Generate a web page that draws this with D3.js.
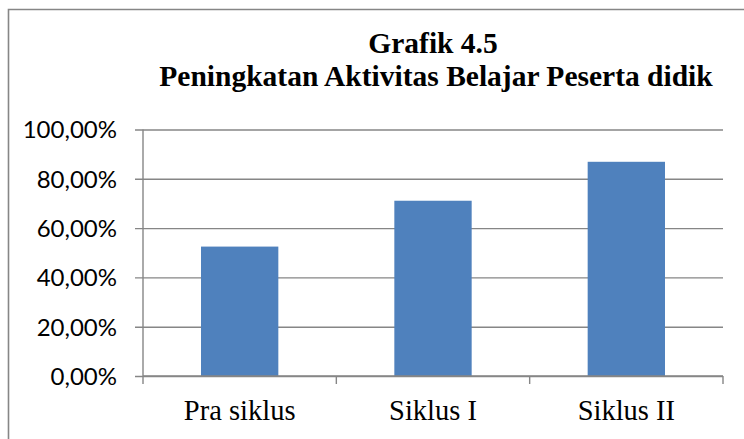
<!DOCTYPE html>
<html>
<head>
<meta charset="utf-8">
<script src="https://cdn.jsdelivr.net/npm/d3@7"></script>
<style>
  body { margin: 0; background: #fff; }
  svg { display: block; }
</style>
</head>
<body>
<div id="chart"></div>
<script>
// data
const categories = ["Pra siklus", "Siklus I", "Siklus II"];
const values = [0.525, 0.711, 0.869];
const yTicks = [0, 0.2, 0.4, 0.6, 0.8, 1.0];
const titleLines = ["Grafik 4.5", "Peningkatan Aktivitas Belajar Peserta didik"];

const width = 744, height = 439;
const margin = {top: 129.5, right: 21, bottom: 63, left: 143};
const innerW = width - margin.left - margin.right;
const innerH = height - margin.top - margin.bottom;
const gray = "#868686";

const svg = d3.select("#chart").append("svg")
  .attr("width", width)
  .attr("height", height);

// outer frame (right / bottom edges fall outside the picture)
svg.append("path")
  .attr("d", "M8.5,450 V9.5 H760")
  .attr("fill", "none")
  .attr("stroke", gray)
  .attr("stroke-width", 1.6);

// title
svg.append("g").selectAll("text")
  .data(titleLines)
  .join("text")
  .attr("x", (d, i) => i == 0 ? 433 : 436)
  .attr("y", (d, i) => 53 + i * 33)
  .attr("text-anchor", "middle")
  .style("font-family", "'Liberation Serif', 'Times New Roman', serif")
  .style("font-weight", "bold")
  .style("font-size", "29.5px")
  .text(d => d);

const g = svg.append("g")
  .attr("transform", "translate(" + margin.left + "," + margin.top + ")");

let x = d3.scaleBand()
  .domain(categories)
  .range([0, innerW])
  .padding(0);

let y = d3.scaleLinear()
  .domain([0, 1])
  .range([innerH, 0]);

// gridlines + y axis
let yAxis = g.append("g")
  .call(d3.axisLeft(y)
    .tickValues(yTicks)
    .tickSize(8)
    .tickFormat(d => d3.format(".2f")(d * 100).replace(".", ",") + "%"));
yAxis.select(".domain").remove();
yAxis.selectAll(".tick line")
  .attr("x2", innerW)
  .attr("x1", -8)
  .attr("stroke", gray)
  .attr("stroke-width", 1.4);
yAxis.selectAll(".tick text")
  .attr("x", -26)
  .attr("dy", "0.35em")
  .attr("fill", "#000")
  .style("font-family", "Lato, 'Open Sans', sans-serif")
  .style("font-size", "24px");

// bars
const barW = x.bandwidth() * 0.4;
g.selectAll("rect.bar")
  .data(values)
  .join("rect")
  .attr("class", "bar")
  .attr("x", (d, i) => x(categories[i]) + (x.bandwidth() - barW) / 2)
  .attr("y", d => y(d))
  .attr("width", barW)
  .attr("height", d => innerH - y(d))
  .attr("fill", "#4F81BD");

// vertical axis line
g.append("line")
  .attr("x1", 0).attr("x2", 0)
  .attr("y1", 0).attr("y2", innerH + 8)
  .attr("stroke", gray)
  .attr("stroke-width", 1.4);

// category axis: ticks between categories
let xAxis = g.append("g")
  .attr("transform", "translate(0," + innerH + ")");
xAxis.append("line")
  .attr("x1", 0).attr("x2", innerW)
  .attr("stroke", gray)
  .attr("stroke-width", 1.4);
xAxis.selectAll("line.tick")
  .data(categories.slice(1).concat(["end"]))
  .join("line")
  .attr("class", "tick")
  .attr("x1", d => d == "end" ? innerW : x(d))
  .attr("x2", d => d == "end" ? innerW : x(d))
  .attr("y1", 0).attr("y2", 8)
  .attr("stroke", gray)
  .attr("stroke-width", 1.4);
xAxis.selectAll("text")
  .data(categories)
  .join("text")
  .attr("x", d => x(d) + x.bandwidth() / 2)
  .attr("y", 44)
  .attr("text-anchor", "middle")
  .style("font-family", "'Liberation Serif', 'Times New Roman', serif")
  .style("font-size", "28.5px")
  .text(d => d);
</script>
</body>
</html>
